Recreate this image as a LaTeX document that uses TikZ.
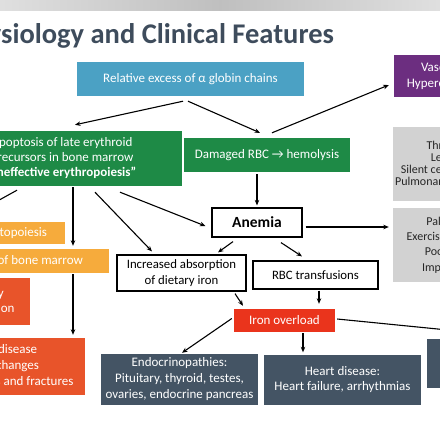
\documentclass[tikz,border=0pt]{standalone}
\usepackage{fontspec}
\setmainfont{Carlito}
\usetikzlibrary{arrows.meta,calc}
\definecolor{cblue}{RGB}{75,161,196}
\definecolor{cgreen}{RGB}{30,138,70}
\definecolor{corange}{RGB}{246,171,60}
\definecolor{cred}{RGB}{232,84,42}
\definecolor{ciron}{RGB}{234,52,28}
\definecolor{cslate}{RGB}{68,84,100}
\definecolor{cgray}{RGB}{210,210,210}
\definecolor{cpurple}{RGB}{108,46,128}
\definecolor{ctitle}{RGB}{62,76,92}
\newcommand\fsz[2]{\fontsize{#1}{#2}\selectfont}
\tikzset{
  fill box/.style={rectangle, inner sep=0pt, align=center, text=white, font=\fsz{13}{15}},
  white box/.style={rectangle, inner sep=0pt, align=center, draw=black, line width=1.2pt, fill=white, text=black, font=\fsz{12.8}{16}},
  arr/.style={-{Stealth[length=5.5pt,width=4.5pt]}, line width=1.1pt, black},
}
\begin{document}
\begin{tikzpicture}[x=1pt,y=-1pt]
\useasboundingbox (0,0) rectangle (440,440);
\clip (0,0) rectangle (440,440);
\fill[white] (0,0) rectangle (440,440);
\shade[left color=gray!25, right color=gray!25, middle color=gray!50] (0,0) rectangle (440,10);
% title
\node[anchor=base east, inner sep=0pt, font=\fsz{28.5}{30}\bfseries, text=ctitle] (title) at (334,43) {Pathophysiology and Clinical Features};
% boxes
\node[fill box, fill=cblue, minimum width=227pt, minimum height=34pt] (blue) at (190.5,79) {Relative excess of α globin chains};
\node[fill box, fill=cpurple, minimum width=124pt, minimum height=42pt, font=\fsz{13}{16}] (purple) at (456,76) {Vasculopathy\\Hypercoagulability};
\node[fill box, fill=cgreen, minimum width=240pt, minimum height=55pt, font=\fsz{13}{15}] (green1) at (62,158.5) {Apoptosis of late erythroid\\precursors in bone marrow\\\textbf{“Ineffective erythropoiesis”}};
\node[fill box, fill=cgreen, minimum width=166pt, minimum height=34pt] (green2) at (267,155) {Damaged RBC → hemolysis};
\node[fill box, fill=cgray, text=black!85, minimum width=124pt, minimum height=74pt, font=\fsz{12}{12}] (gray1) at (455,164) {Thrombosis\\Leg ulcers\\Silent cerebral infarcts\\Pulmonary hypertension};
\node[fill box, fill=cgray, text=black!85, minimum width=124pt, minimum height=74pt, font=\fsz{12}{15.3}] (gray2) at (455,245) {Palpitations\\Exercise intolerance\\Poor growth\\Impaired QoL};
\node[white box, minimum width=90pt, minimum height=29pt, font=\fsz{15.5}{17}\bfseries] (anemia) at (257,222.5) {Anemia};
\node[white box, minimum width=129pt, minimum height=36pt] (absorb) at (181.5,273) {Increased absorption\\of dietary iron};
\node[white box, minimum width=125pt, minimum height=28pt] (transf) at (315.5,275) {RBC transfusions};
\node[fill box, fill=ciron, minimum width=101pt, minimum height=23pt] (iron) at (284.5,320.5) {Iron overload};
\node[fill box, fill=cslate, minimum width=157pt, minimum height=51pt, font=\fsz{13}{16}] (endo) at (179.5,379.5) {Endocrinopathies:\\Pituitary, thyroid, testes,\\ovaries, endocrine pancreas};
\node[fill box, fill=cslate, minimum width=157pt, minimum height=50pt, font=\fsz{13}{15.5}] (heart) at (342.5,379.5) {Heart disease:\\Heart failure, arrhythmias};
\node[fill box, fill=cslate, minimum width=158pt, minimum height=49pt, font=\fsz{13}{15.5}] (liver) at (506,363.5) {Liver disease:\\Fibrosis, cirrhosis};
\node[fill box, fill=corange, minimum width=196pt, minimum height=22pt] (emh) at (-33,233) {Extramedullary hematopoiesis};
\node[fill box, fill=corange, minimum width=194pt, minimum height=24pt] (expand) at (12,261) {Expansion of bone marrow};
\node[fill box, fill=cred, minimum width=126pt, minimum height=47pt, font=\fsz{13}{15}] (spleen) at (-33,301.5) {Splenomegaly\\Cord compression};
\node[fill box, fill=cred, minimum width=165pt, minimum height=57pt, font=\fsz{13}{16}] (bone) at (2.5,366.5) {Bone disease\\Bone changes\\Osteoporosis and fractures};
% connectors
\draw[arr] ($(blue.south)+(-7.5,5)$) -- ($(green1.north)+(13,-6)$);
\draw[arr] ($(blue.south)+(-2.5,5)$) -- ($(green2.north)+(-7,-5)$);
\draw[arr] ($(green2.north)+(5,-5)$) -- ($(purple.west)+(-5,9)$);
\draw[arr] ($(green2.south)+(-10,2)$) -- ($(anemia.north)+(0,-2)$);
\draw[arr] ($(anemia.east)+(3,4.5)$) -- ($(gray2.west)+(-4,-18)$);
\draw[arr] ($(green1.south)+(58,6)$) -- ($(anemia.west)+(-6,3.5)$);
\draw[arr] ($(green1.south)+(33,6)$) -- ($(absorb.north)+(-29.5,-3)$);
\draw[arr] ($(green1.south)+(11,1)$) -- ($(expand.north)+(61,-3)$);
\draw[arr] ($(expand.south)+(61,1)$) -- ($(bone.north)+(70.5,-3)$);
\draw[arr] ($(green1.south)+(-45,4)$) -- ($(emh.north)+(0,-4)$);
\draw[arr] ($(anemia.south)+(-24,4)$) -- ($(absorb.north)+(36.5,-2)$);
\draw[arr] ($(anemia.south)+(24,5)$) -- ($(transf.north)+(-13.5,-4)$);
\draw[arr] ($(transf.south)+(3.5,1)$) -- ($(iron.north)+(34.5,-5)$);
\draw[arr] ($(absorb.south)+(53.5,2)$) -- ($(iron.north)+(-41.5,-3)$);
\draw[arr] ($(iron.west)+(-2,-2)$) -- ($(endo.north)+(2.5,-1)$);
\draw[arr] ($(iron.south)+(18.5,1)$) -- ($(heart.north)+(-39.5,-2)$);
\draw[arr] ($(iron.east)+(2,-1.5)$) -- ($(liver.north)+(0,-3)$);
\end{tikzpicture}
\end{document}
